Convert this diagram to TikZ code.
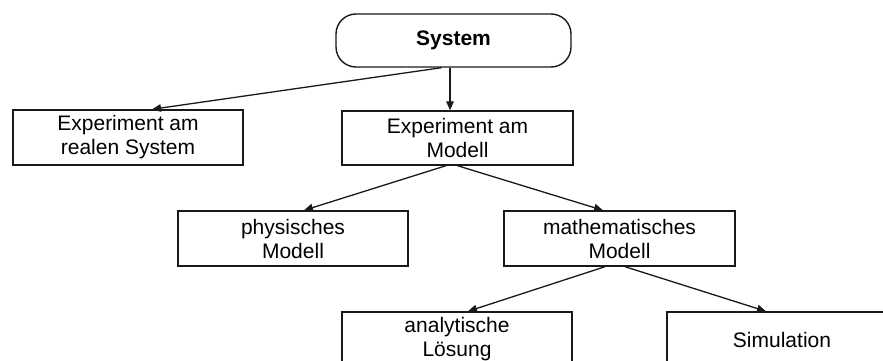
\documentclass[tikz,border=0pt]{standalone}
\usepackage{fontspec}
\setmainfont{Liberation Sans}
\usetikzlibrary{arrows.meta,calc}
\begin{document}
\begin{tikzpicture}[x=1pt,y=1pt,
  box/.style={draw=black!90, line width=1.4pt, minimum width=230pt, minimum height=55pt,
    inner sep=0pt, align=center, font=\fontsize{21}{24}\selectfont},
  topbox/.style={box, rounded corners=20pt, minimum width=235pt, minimum height=53pt,
    font=\fontsize{21}{24}\selectfont\bfseries},
  conn/.style={draw=black!90, line width=1.3pt, -{Triangle[length=9pt,width=7.5pt]}}
]
\useasboundingbox (0,0) rectangle (883,-361);
\clip (0,0) rectangle (883,-361);
\node[topbox] (sys) at (453.5,-40.5) {System};
\node[box] (real) at (128,-137.5) {Experiment am\\realen System};
\node[box, minimum width=231pt, minimum height=54pt] (modell) at (457.5,-138) {Experiment am\\Modell};
\node[box] (phys) at (293,-238.5) {physisches\\Modell};
\node[box, minimum width=231pt] (math) at (619.5,-238.5) {mathematisches\\Modell};
\node[box] (analyt) at (457,-339.5) {analytische\\Lösung};
\node[box] (sim) at (782,-339.5) {Simulation};
\draw[conn] ([xshift=-12pt]sys.south) -- ([xshift=24pt]real.north);
\draw[conn] ([xshift=-3.5pt]sys.south) -- ([xshift=-7.5pt]modell.north);
\draw[conn] ([xshift=-11.5pt]modell.south) -- ([xshift=11pt]phys.north);
\draw[conn] ([xshift=0pt]modell.south) -- ([xshift=-16.5pt]math.north);
\draw[conn] ([xshift=-14.5pt]math.south) -- ([xshift=11pt]analyt.north);
\draw[conn] ([xshift=5.5pt]math.south) -- ([xshift=-16pt]sim.north);
\end{tikzpicture}
\end{document}
